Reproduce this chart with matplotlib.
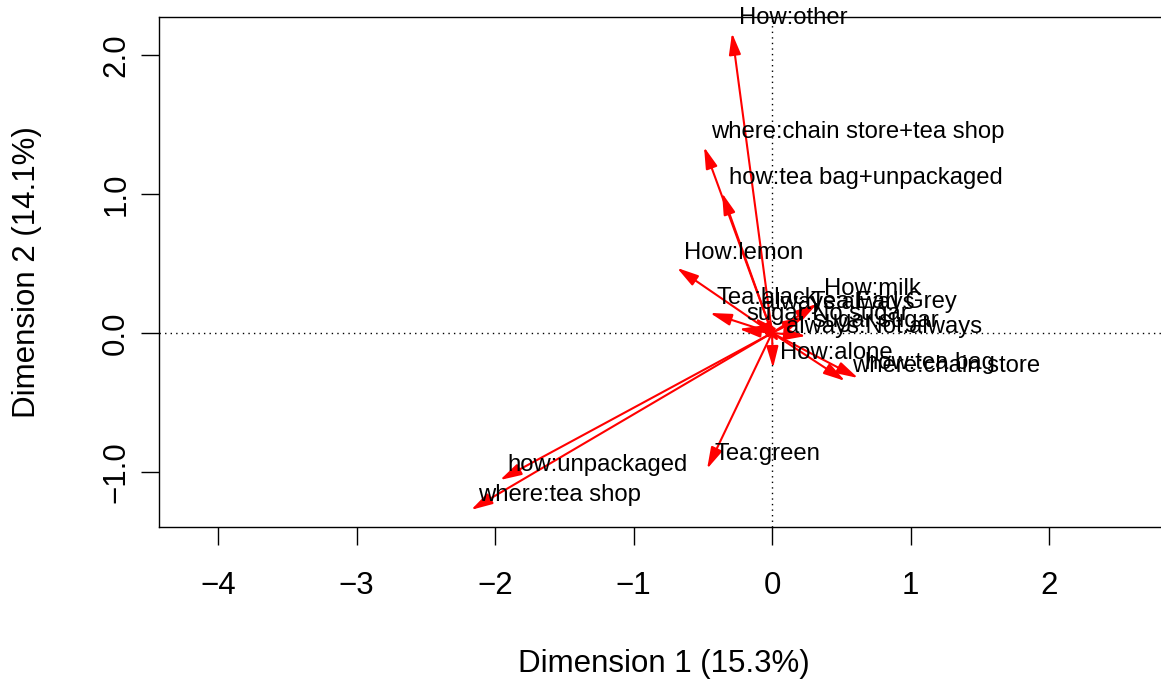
import matplotlib
matplotlib.use("Agg")
import matplotlib.pyplot as plt
import numpy as np

plt.rcParams['font.family'] = ['Liberation Sans', 'DejaVu Sans']

# category coordinates on the first two dimensions
labels = ["How:other", "where:chain store+tea shop", "how:tea bag+unpackaged",
          "How:lemon", "Tea:black", "always:always", "Tea:Earl Grey", "How:milk",
          "sugar:No.sugar", "sugar:sugar", "always:Not.always", "How:alone",
          "how:tea bag", "where:chain store", "Tea:green", "how:unpackaged",
          "where:tea shop"]
dim1 = [-0.289, -0.491, -0.361, -0.686, -0.448, -0.123, 0.231, 0.325,
        -0.238, 0.245, 0.051, 0.007, 0.621, 0.527, -0.469, -1.964, -2.173]
dim2 = [2.158, 1.338, 1.007, 0.468, 0.144, 0.108, 0.115, 0.209,
        0.029, -0.022, -0.065, -0.252, -0.324, -0.345, -0.978, -1.058, -1.273]

xticks = [-4, -3, -2, -1, 0, 1, 2]
yticks = [-1.0, 0.0, 1.0, 2.0]

W, H = 1161, 679
fig = plt.figure(figsize=(W / 100, H / 100), dpi=100)
ax = fig.add_axes([159 / W, (H - 527) / H, (1169 - 159) / W, (527 - 17) / H])
ax.set_xlim(-4.426, 2.866)
ax.set_ylim(-1.396, 2.273)

ax.axhline(0, color='black', lw=1.0, ls=(0, (1, 3)))
ax.axvline(0, color='black', lw=1.0, ls=(0, (1, 3)))

for lab, x, y in zip(labels, dim1, dim2):
    ax.annotate("", xy=(x, y), xytext=(0, 0),
                arrowprops=dict(arrowstyle='-|>,head_length=1.3,head_width=0.36',
                                color='red', lw=1.5, shrinkA=0, shrinkB=0,
                                mutation_scale=10))
for lab, x, y in zip(labels, dim1, dim2):
    ax.annotate(lab, xy=(x, y), xytext=(5, 11), textcoords='offset points',
                ha='left', va='center', fontsize=17.2, color='black',
                annotation_clip=False)

for s in ax.spines.values():
    s.set_linewidth(1.0)

ax.set_xticks(xticks)
ax.set_xticklabels([str(t).replace('-', '\u2212') for t in xticks])
ax.set_yticks(yticks)
ax.set_yticklabels([f"{t:.1f}".replace('-', '\u2212') for t in yticks],
                   rotation=90, va='center')
ax.tick_params(axis='both', length=13, width=1.0, labelsize=22.5, direction='out')
ax.tick_params(axis='x', pad=19)
ax.tick_params(axis='y', pad=7)

ax.set_xlabel("Dimension 1 (15.3%)", fontsize=22.5, labelpad=34)
ax.set_ylabel("Dimension 2 (14.1%)", fontsize=22.5, labelpad=43)

fig.savefig("out.png", dpi=100)
